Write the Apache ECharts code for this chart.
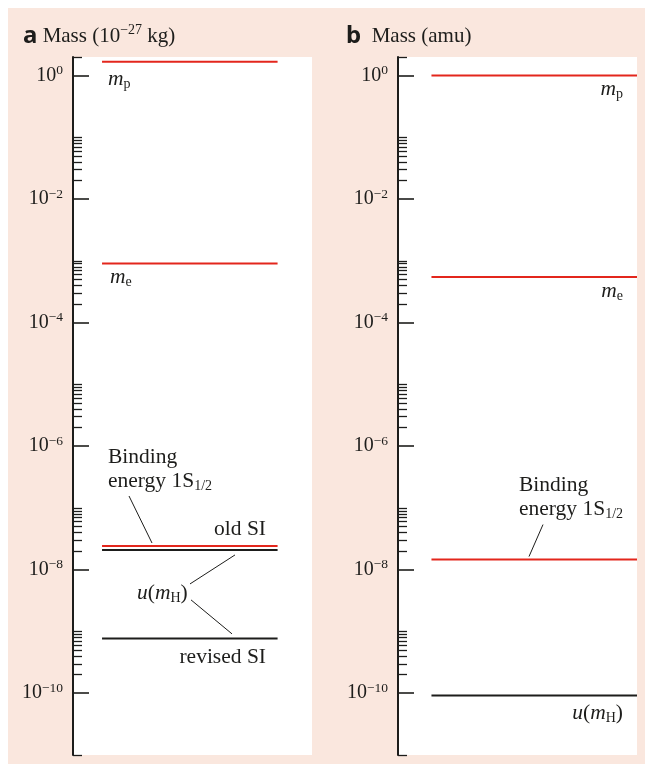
<!DOCTYPE html>
<html><head><meta charset="utf-8">
<script src="https://cdn.jsdelivr.net/npm/echarts@6/dist/echarts.min.js"></script>
<style>html,body{margin:0;padding:0;background:#fff}#c{width:645px;height:764px}</style>
</head><body><div id="c"></div>
<script>
// ---------------- data ----------------
const axisMin = 1e-11;
const axisMax = 2;
const majorTicks = [1, 1e-2, 1e-4, 1e-6, 1e-8, 1e-10];
const majorTickLabels = ['0', '\u22122', '\u22124', '\u22126', '\u22128', '\u221210'];
const minorTicks = [
  1e-1, 9e-2, 8e-2, 7e-2, 6e-2, 5e-2, 4e-2, 3e-2, 2e-2,
  1e-3, 9e-4, 8e-4, 7e-4, 6e-4, 5e-4, 4e-4, 3e-4, 2e-4,
  1e-5, 9e-6, 8e-6, 7e-6, 6e-6, 5e-6, 4e-6, 3e-6, 2e-6,
  1e-7, 9e-8, 8e-8, 7e-8, 6e-8, 5e-8, 4e-8, 3e-8, 2e-8,
  1e-9, 9e-10, 8e-10, 7e-10, 6e-10, 5e-10, 4e-10, 3e-10, 2e-10
];
const capTicks = [axisMin, axisMax];

// Panel a: mass in 10^-27 kg
const levelNamesA = ['m_p', 'm_e', 'binding 1S1/2', 'u(m_H) old SI', 'u(m_H) revised SI'];
const levelValuesA = [1.6726, 9.109e-4, 2.42e-8, 2.09e-8, 7.67e-10];
const levelIsRedA = [true, true, true, false, false];

// Panel b: mass in amu
const levelNamesB = ['m_p', 'm_e', 'binding 1S1/2', 'u(m_H)'];
const levelValuesB = [1.00728, 5.486e-4, 1.46e-8, 9.15e-11];
const levelIsRedB = [true, true, true, false];

// ---------------- style / layout ----------------
const SERIF = '"Liberation Serif","Times New Roman",serif';
const SANS = '"Noto Sans","Open Sans",sans-serif';
const INK = '#1d1d1b';
const RED = '#e3261c';
const PEACH = '#fae7de';
const spanA = [0.1215, 0.856];
const spanB = [0.140, 1.0];
const grids = [
  {left: 73, top: 57, width: 239, height: 698},
  {left: 398, top: 57, width: 239, height: 698}
];

const labelRich = {
  b: {fontFamily: SERIF, fontSize: 20, color: INK, lineHeight: 24},
  s: {fontFamily: SERIF, fontSize: 13.5, color: INK, lineHeight: 12, verticalAlign: 'top'}
};
function majorFormatter(v) {
  const i = majorTicks.findIndex(t => Math.abs(Math.log10(t) - Math.log10(v)) < 1e-6);
  if (i < 0) return '';
  return '{b|10}{s|' + majorTickLabels[i] + '}';
}
function yAxes(gridIndex) {
  return [
    {
      type: 'log', logBase: 10, gridIndex, position: 'left', min: axisMin, max: axisMax,
      axisLine: {show: true, onZero: false, lineStyle: {color: INK, width: 2}},
      axisTick: {show: true, inside: true, length: 16, customValues: majorTicks, lineStyle: {color: INK, width: 1.6}},
      axisLabel: {show: true, margin: 10, customValues: majorTicks, formatter: majorFormatter, rich: labelRich},
      splitLine: {show: false}, minorTick: {show: false}
    },
    {
      type: 'log', logBase: 10, gridIndex, position: 'left', min: axisMin, max: axisMax,
      axisLine: {show: false, onZero: false},
      axisTick: {show: true, inside: true, length: 9, customValues: minorTicks.concat(capTicks), lineStyle: {color: INK, width: 1.3}},
      axisLabel: {show: false},
      splitLine: {show: false}
    }
  ];
}

const series = [];
function addLevels(names, values, isRed, span, xAxisIndex, yAxisIndex) {
  names.forEach((n, i) => {
    series.push({
      name: n, type: 'line', xAxisIndex, yAxisIndex, silent: true,
      symbol: 'none', animation: false,
      lineStyle: {color: isRed[i] ? RED : INK, width: 2},
      data: [[span[0], values[i]], [span[1], values[i]]]
    });
  });
}
addLevels(levelNamesA, levelValuesA, levelIsRedA, spanA, 0, 0);
addLevels(levelNamesB, levelValuesB, levelIsRedB, spanB, 1, 2);

const chart = echarts.init(document.getElementById('c'), null, {renderer: 'canvas'});
chart.setOption({
  backgroundColor: '#ffffff',
  animation: false,
  grid: grids.map(g => Object.assign({show: true, backgroundColor: '#ffffff', borderWidth: 0, containLabel: false}, g)),
  xAxis: [0, 1].map(g => ({type: 'value', gridIndex: g, min: 0, max: 1, show: false})),
  yAxis: yAxes(0).concat(yAxes(1)),
  series
});

// ---------------- annotations ----------------
const FS = 21.5;
const textRich = {
  t: {fontFamily: SERIF, fontSize: FS, fill: INK, color: INK, lineHeight: 24},
  i: {fontFamily: SERIF, fontSize: FS, fontStyle: 'italic', fill: INK, color: INK, lineHeight: 24},
  sub: {fontFamily: SERIF, fontSize: 14, fill: INK, color: INK, lineHeight: 14, verticalAlign: 'bottom'}
};
// [seriesIndex of reference level, text, x, dy, align]
const annotations = [
  [0, '{i|m}{sub|p}', 108, 18, 'left'],
  [1, '{i|m}{sub|e}', 110, 14, 'left'],
  [2, '{t|Binding}\n{t|energy 1S}{sub|1/2}', 108, -77, 'left'],
  [3, '{t|old SI}', 266, -21, 'right'],
  [3, '{i|u}{t|(}{i|m}{sub|H}{t|)}', 137, 43, 'left'],
  [4, '{t|revised SI}', 266, 18.5, 'right'],
  [5, '{i|m}{sub|p}', 623, 13.5, 'right'],
  [6, '{i|m}{sub|e}', 623, 14.5, 'right'],
  [7, '{t|Binding}\n{t|energy 1S}{sub|1/2}', 519, -62, 'left'],
  [8, '{i|u}{t|(}{i|m}{sub|H}{t|)}', 623, 18, 'right']
];
// [seriesIndex, x1, dy1, x2, dy2]
const leaders = [
  [2, 129, -50, 152, -3],
  [3, 190, 34, 235, 5],
  [4, 191, -38.7, 232, -4.7],
  [7, 543, -35, 529, -3]
];
function levelY(si) {
  const d = series[si].data[0];
  return chart.convertToPixel({seriesIndex: si}, d)[1];
}
const graphic = [
  {type: 'rect', z: -100, silent: true, shape: {x: 8, y: 8, width: 645, height: 764}, style: {fill: PEACH}},
  {type: 'text', silent: true, style: {
    x: 23, y: 36, verticalAlign: 'middle', align: 'left',
    text: '{a|a}{t| Mass (10}{s|\u221227}{t| kg)}',
    rich: {
      a: {fontFamily: SANS, fontWeight: 'bold', fontSize: 24, fill: INK, lineHeight: 26},
      t: {fontFamily: SERIF, fontSize: 21, fill: INK, lineHeight: 26},
      s: {fontFamily: SERIF, fontSize: 14, fill: INK, lineHeight: 12, verticalAlign: 'top'}
    }
  }},
  {type: 'text', silent: true, style: {
    x: 346, y: 36, verticalAlign: 'middle', align: 'left',
    text: '{a|b}{t|  Mass (amu)}',
    rich: {
      a: {fontFamily: SANS, fontWeight: 'bold', fontSize: 24, fill: INK, lineHeight: 26},
      t: {fontFamily: SERIF, fontSize: 21, fill: INK, lineHeight: 26}
    }
  }}
];
annotations.forEach(a => {
  const y = levelY(a[0]) + a[3];
  graphic.push({type: 'text', silent: true, z: 10, style: {
    x: a[2], y, text: a[1], rich: textRich, align: a[4], verticalAlign: 'middle', fill: INK
  }});
});
leaders.forEach(l => {
  const y = levelY(l[0]);
  graphic.push({type: 'line', silent: true, z: 10, shape: {x1: l[1], y1: y + l[2], x2: l[3], y2: y + l[4]},
    style: {stroke: INK, lineWidth: 1}});
});
chart.setOption({graphic});
</script></body></html>
